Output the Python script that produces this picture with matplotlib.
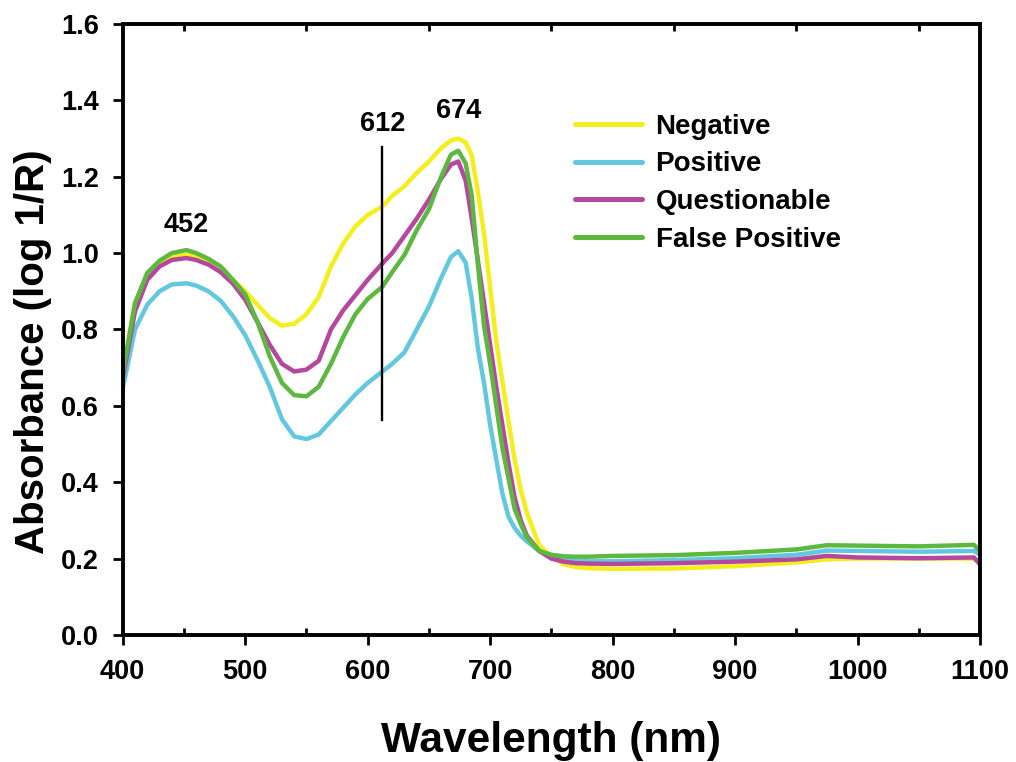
import matplotlib
matplotlib.use("Agg")
import matplotlib.pyplot as plt
from matplotlib.ticker import MultipleLocator, FormatStrFormatter

plt.rcParams['font.family'] = ['Liberation Sans', 'DejaVu Sans']
plt.rcParams['font.weight'] = 'bold'

wavelength = [400, 410, 420, 430, 440, 452, 460, 470, 480, 490, 500, 510, 520, 530,
              540, 550, 560, 570, 580, 590, 600, 612, 620, 630, 640, 650, 660, 668,
              674, 680, 685, 690, 695, 700, 705, 710, 715, 720, 725, 730, 740, 750,
              760, 770, 780, 800, 850, 900, 950, 975, 1000, 1050, 1095, 1100]

negative = [0.68, 0.87, 0.94, 0.975, 0.99, 0.995, 0.99, 0.975, 0.955, 0.93, 0.90, 0.865,
            0.83, 0.81, 0.815, 0.84, 0.885, 0.965, 1.025, 1.07, 1.10, 1.122, 1.15, 1.175,
            1.21, 1.24, 1.275, 1.295, 1.30, 1.29, 1.255, 1.16, 1.05, 0.91, 0.77, 0.665,
            0.56, 0.46, 0.38, 0.32, 0.235, 0.205, 0.185, 0.178, 0.175, 0.173, 0.174, 0.18,
            0.19, 0.198, 0.20, 0.20, 0.20, 0.19]

positive = [0.645, 0.80, 0.865, 0.90, 0.918, 0.921, 0.915, 0.90, 0.875, 0.835, 0.785, 0.72,
            0.65, 0.565, 0.52, 0.513, 0.525, 0.56, 0.595, 0.63, 0.66, 0.69, 0.71, 0.74,
            0.80, 0.86, 0.935, 0.99, 1.005, 0.975, 0.88, 0.75, 0.66, 0.55, 0.46, 0.37,
            0.31, 0.28, 0.26, 0.245, 0.22, 0.206, 0.198, 0.195, 0.193, 0.193, 0.196, 0.201,
            0.21, 0.221, 0.22, 0.218, 0.22, 0.21]

questionable = [0.673, 0.847, 0.93, 0.965, 0.982, 0.987, 0.982, 0.97, 0.95, 0.92, 0.878,
                0.82, 0.76, 0.71, 0.69, 0.695, 0.718, 0.80, 0.85, 0.89, 0.93, 0.973, 1.0,
                1.045, 1.09, 1.14, 1.195, 1.232, 1.24, 1.19, 1.09, 0.98, 0.87, 0.76, 0.65,
                0.55, 0.45, 0.36, 0.30, 0.26, 0.22, 0.20, 0.192, 0.188, 0.187, 0.186, 0.188,
                0.192, 0.198, 0.207, 0.203, 0.201, 0.203, 0.185]

false_positive = [0.686, 0.869, 0.948, 0.98, 1.0, 1.008, 1.0, 0.985, 0.965, 0.93, 0.892,
                  0.82, 0.73, 0.66, 0.628, 0.625, 0.65, 0.71, 0.78, 0.84, 0.88, 0.912, 0.95,
                  0.995, 1.06, 1.115, 1.20, 1.258, 1.268, 1.235, 1.15, 0.97, 0.81, 0.71,
                  0.60, 0.49, 0.41, 0.33, 0.29, 0.255, 0.22, 0.21, 0.206, 0.205, 0.205,
                  0.207, 0.209, 0.215, 0.224, 0.235, 0.234, 0.232, 0.236, 0.22]

series_names = ['Negative', 'Positive', 'Questionable', 'False Positive']
series_colors = ['#F4EF1C', '#62C8DF', '#B5489E', '#5DB83F']

peak_labels = ['452', '612', '674']
peak_label_x = [452, 612, 674]
peak_label_y = [1.04, 1.303, 1.338]

marker_wavelength = 612
marker_ymin, marker_ymax = 0.563, 1.279

fig = plt.figure(figsize=(10.16, 7.62), dpi=100)
ax = fig.add_axes([0.1208, 0.1667, 0.8438, 0.8018])

for vals, name, col in zip([negative, positive, questionable, false_positive],
                           series_names, series_colors):
    ax.plot(wavelength, vals, color=col, lw=3.2, label=name,
            solid_capstyle='round', solid_joinstyle='round')

ax.plot([marker_wavelength, marker_wavelength], [marker_ymin, marker_ymax],
        color='black', lw=1.7)

for lab, px, py in zip(peak_labels, peak_label_x, peak_label_y):
    ax.text(px, py, lab, ha='center', va='bottom', fontsize=19.5, fontweight='bold')

ax.set_xlim(400, 1100)
ax.set_ylim(0, 1.6)
ax.xaxis.set_major_locator(MultipleLocator(100))
ax.xaxis.set_minor_locator(MultipleLocator(50))
ax.yaxis.set_major_locator(MultipleLocator(0.2))
ax.yaxis.set_major_formatter(FormatStrFormatter('%.1f'))

ax.tick_params(axis='x', which='major', direction='out', length=7, width=2,
               bottom=True, top=False, labelsize=19.5, pad=10)
ax.tick_params(axis='x', which='minor', direction='in', length=5, width=2,
               bottom=True, top=True)
ax.tick_params(axis='y', which='major', direction='out', length=7, width=2,
               left=True, right=False, labelsize=19.5, pad=10)
for lab in ax.get_xticklabels() + ax.get_yticklabels():
    lab.set_fontweight('bold')

for sp in ax.spines.values():
    sp.set_linewidth(2.8)

ax.set_xlabel('Wavelength (nm)', fontsize=30.5, fontweight='bold')
ax.set_ylabel('Absorbance (log 1/R)', fontsize=29, fontweight='bold')
ax.xaxis.set_label_coords(0.4996, -0.141)
ax.yaxis.set_label_coords(-0.0825, 0.463)

leg = ax.legend(loc='upper left', bbox_to_anchor=(0.5276, 0.853), frameon=False,
                fontsize=20, handlelength=2.4, handletextpad=0.5, labelspacing=0.42,
                borderpad=0, borderaxespad=0)
for t in leg.get_texts():
    t.set_fontweight('bold')
for h in leg.get_lines():
    h.set_linewidth(3.6)

fig.savefig('out.png', dpi=100)
